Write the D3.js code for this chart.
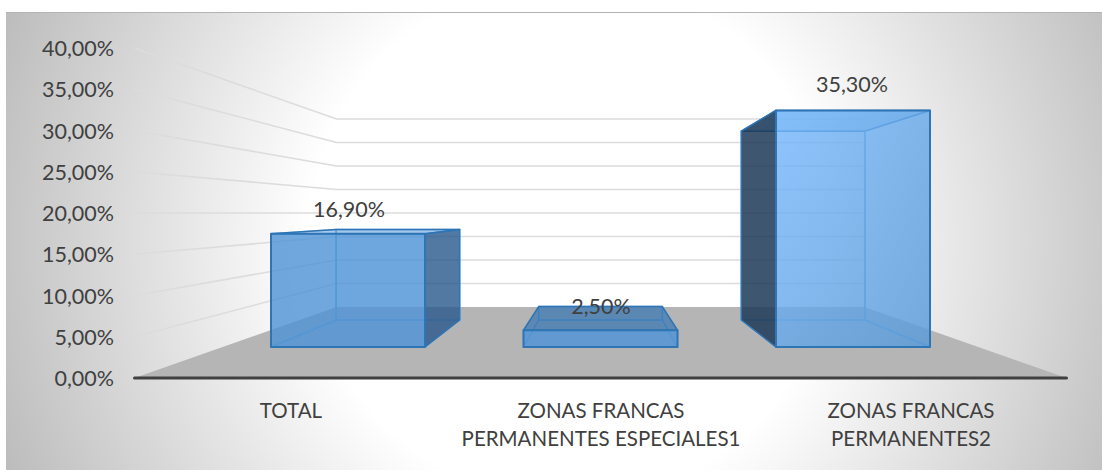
<!DOCTYPE html>
<html><head><meta charset="utf-8">
<script src="https://cdn.jsdelivr.net/npm/d3@7/dist/d3.min.js"></script>
<style>html,body{margin:0;padding:0;background:#fff}svg{display:block}text{font-family:Lato,"Open Sans",sans-serif;fill:#404040}</style>
</head><body><svg id="c" width="1102" height="470"></svg>
<script>
const categories = [["TOTAL"],["ZONAS FRANCAS","PERMANENTES ESPECIALES1"],["ZONAS FRANCAS","PERMANENTES2"]];
const values = [16.9, 2.5, 35.3];
const valueLabels = ["16,90%","2,50%","35,30%"];
const ticks = [0,5,10,15,20,25,30,35,40];
const frontFill = ["#4f93d6","#4f93d6","url(#bar3)"];
const sideFill = ["#2c5a8c","#2c5a8c","#1f3a56"];

const W=1102,H=470,cx=600.5;
const svg=d3.select("#c");
const defs=svg.append("defs");
const g=defs.append("radialGradient").attr("id","bg").attr("gradientUnits","userSpaceOnUse")
  .attr("cx",570).attr("cy",240).attr("r",620);
g.append("stop").attr("offset",0.42).attr("stop-color","#fff");
g.append("stop").attr("offset",1).attr("stop-color","#bababa");
const b3=defs.append("linearGradient").attr("id","bar3").attr("x1",0).attr("y1",0).attr("x2",1).attr("y2",1);
b3.append("stop").attr("offset",0).attr("stop-color","#76b8fb");
b3.append("stop").attr("offset",1).attr("stop-color","#5a9ad8");
svg.append("rect").attr("x",6).attr("y",12).attr("width",W-6).attr("height",H-12).attr("fill","url(#bg)");
svg.append("line").attr("x1",6).attr("x2",W).attr("y1",12.5).attr("y2",12.5).attr("stroke","#b4b4b4");

// depth: 0 = front edge of floor, 1 = back wall
const BF=0.437, BB=0.817;
const floorY=d3.scaleLinear().domain([0,1]).range([378,307]);
const halfW=d3.scaleLinear().domain([0,BF,BB,1]).range([466,380,305,264]);
const pxPerUnit=d3.scaleLinear().domain([0,BF,BB,1]).range([8.25,6.7,5.35,4.7]);
const band=d3.scaleBand().domain(d3.range(categories.length)).range([0,1]).paddingInner(0.39).paddingOuter(0.2);
// project (u across, v value, d depth) to screen
const P=(u,v,d)=>[cx+(u-0.5)*2*halfW(d), floorY(d)-v*pxPerUnit(d)];
const path=pts=>"M"+pts.map(p=>p.join(",")).join("L")+"Z";

// floor
svg.append("path").attr("d",path([P(0,0,0),P(0,0,1),P(1,0,1),P(1,0,0)])).attr("fill","#b5b5b5");

// gridlines
const grid=svg.append("g").attr("fill","none").attr("stroke","#dcdcdc").attr("stroke-width",1.6);
ticks.slice(1).forEach(t=>{
  grid.append("path").attr("d","M"+[P(0,t,0),P(0,t,1),P(1,t,1)].map(p=>p.join(",")).join("L"));
});

// y labels
svg.append("g").selectAll("text").data(ticks).join("text")
  .attr("x",114).attr("y",t=>P(0,t,0)[1]+8).attr("text-anchor","end").attr("font-size",21.5)
  .text(t=>d3.format(".2f")(t).replace(".",",")+"%");

// bars
const bars=svg.append("g");
values.forEach((v,i)=>{
  const u0=band(i),u1=u0+band.bandwidth();
  const A=(u,vv,d)=>P(u,vv,d);
  const face=(pts,fill,op,stroke,sop,sw=1.5)=>bars.append("path").attr("d",path(pts)).attr("fill",fill).attr("fill-opacity",op)
     .attr("stroke",stroke).attr("stroke-opacity",sop).attr("stroke-width",sw).attr("stroke-linejoin","round");
  const light=frontFill[i], dark=sideFill[i];
  // back, floor
  face([A(u0,0,BB),A(u1,0,BB),A(u1,v,BB),A(u0,v,BB)],light,0.12,"#5b9bd5",0.8);
  face([A(u0,0,BF),A(u1,0,BF),A(u1,0,BB),A(u0,0,BB)],light,0.12,"#5b9bd5",0.6);
  const lf=[A(u0,0,BF),A(u0,0,BB),A(u0,v,BB),A(u0,v,BF)];
  const rt=[A(u1,0,BF),A(u1,0,BB),A(u1,v,BB),A(u1,v,BF)];
  if(i===0){face(lf,light,0.05,"#5b9bd5",0.5);face(rt,dark,0.8,"#2e75b6",1);}
  else if(i===2){face(rt,light,0.1,"#5b9bd5",0.8);}
  else {face(lf,light,0.1,"#5b9bd5",0.5);face(rt,light,0.1,"#5b9bd5",0.5);}
  // top
  face([A(u0,v,BF),A(u1,v,BF),A(u1,v,BB),A(u0,v,BB)],i===1?"#2c6fb0":light,i===1?0.62:0.45,"#2e75b6",1);
  if(i===2) face(lf,dark,0.85,"#2e75b6",1);
  // front
  face([A(u0,0,BF),A(u1,0,BF),A(u1,v,BF),A(u0,v,BF)],light,0.8,"#2e75b6",1,2);
});

// axis line
const a0=P(0,0,0),a1=P(1,0,0);
svg.append("line").attr("x1",a0[0]).attr("y1",a0[1]).attr("x2",a1[0]).attr("y2",a1[1])
  .attr("stroke","#404040").attr("stroke-width",3).attr("stroke-linecap","round");

// value labels
const labelPos=[[349,217],[601,314],[852,92]];
svg.append("g").selectAll("text").data(valueLabels).join("text")
  .attr("x",(d,i)=>labelPos[i][0]).attr("y",(d,i)=>labelPos[i][1]).attr("text-anchor","middle").attr("font-size",21.5).text(d=>d);

// category labels
const catX=[291,601,911];
categories.forEach((c,i)=>{
  const t=svg.append("text").attr("text-anchor","middle").attr("font-size",20.5);
  c.forEach((s,j)=>t.append("tspan").attr("x",catX[i]).attr("y",417.5+j*28.7).text(s));
});
</script></body></html>
